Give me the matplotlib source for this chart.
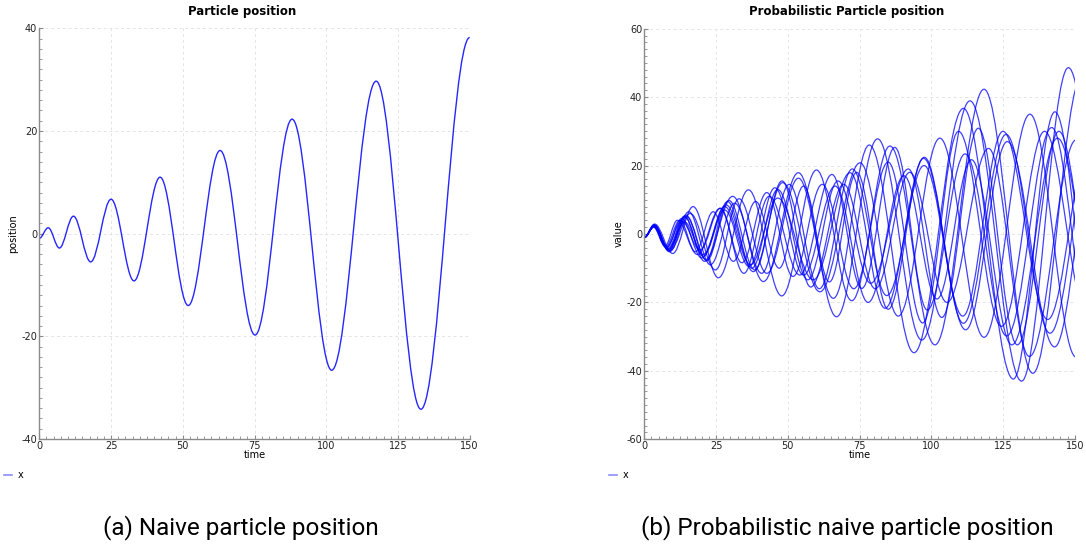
import matplotlib
matplotlib.use('Agg')
import matplotlib.pyplot as plt
from matplotlib.path import Path
from matplotlib.patches import PathPatch
from matplotlib.lines import Line2D
from matplotlib.ticker import MultipleLocator

plt.rcParams['axes.unicode_minus'] = False

# 单粒子轨迹的极值点 (time, position)
naive_t = [0, 3.1, 7.0, 11.9, 17.9, 25.0, 33.0, 42.1, 51.9, 63.0, 75.2, 88.1, 101.9, 117.4, 133.0, 150.0]
naive_x = [-0.9, 1.15, -2.8, 3.4, -5.5, 6.7, -9.2, 11.0, -14.0, 16.2, -19.75, 22.3, -26.6, 29.7, -34.2, 38.2]

# 概率粒子的各条采样轨迹（极值点）
run_a_t = [0, 3.5, 8.5, 14.0, 21.0, 30.8, 41.5, 53.7, 67.0, 81.3, 96.7, 113.5, 131.5, 147.8, 166.0]
run_a_x = [-1.0, 2.6, -4.5, 5.0, -8.0, 11.0, -13.9, 17.9, -24.2, 27.8, -31.0, 38.9, -43.0, 48.6, -52.0]
run_b_t = [0, 3.6, 9.9, 17.0, 25.8, 36.3, 47.9, 60.0, 72.3, 85.6, 101.3, 118.4, 135.4, 152.5]
run_b_x = [-1.0, 2.9, -5.7, 8.0, -12.8, 12.9, -18.1, 18.7, -19.5, 25.7, -32.4, 42.3, -40.7, 46.0]
run_c_t = [0, 3.4, 9.0, 16.0, 24.8, 33.0, 42.7, 53.7, 65.9, 78.4, 94.0, 111.2, 128.6, 143.1, 158.0]
run_c_x = [-1.0, 2.4, -4.8, 6.0, -10.5, 10.3, -11.5, 16.3, -18.8, 26.0, -34.7, 36.7, -42.4, 35.7, -38.0]
run_d_t = [0, 3.2, 7.2, 11.5, 18.5, 26.4, 34.7, 43.5, 54.2, 65.4, 75.8, 87.3, 98.6, 111.8, 126.3, 142.0, 156.0]
run_d_x = [-1.0, 2.0, -3.5, 4.0, -6.0, 7.5, -11.5, 11.0, -12.0, 17.4, -15.9, 25.3, -22.2, 23.4, -29.8, 31.1, -30.0]
run_e_t = [0, 3.4, 7.8, 13.0, 20.0, 28.5, 38.0, 48.2, 61.2, 75.2, 88.5, 103.0, 118.4, 134.4, 150.5]
run_e_x = [-1.0, 2.3, -4.0, 4.5, -7.0, 8.5, -11.0, 15.0, -16.9, 20.8, -24.0, 28.0, -30.2, 35.0, -36.0]
run_f_t = [0, 3.4, 8.2, 14.0, 20.5, 28.0, 37.0, 46.5, 58.9, 71.7, 83.9, 97.6, 111.2, 126.1, 141.4, 157.0]
run_f_x = [-1.0, 2.0, -4.5, 3.5, -6.0, 8.0, -9.0, 10.5, -13.4, 17.9, -21.7, 22.4, -26.1, 29.1, -29.0, 30.0]
run_g_t = [0, 3.5, 8.5, 14.5, 21.5, 29.0, 37.5, 46.5, 57.0, 67.5, 78.9, 92.0, 103.7, 116.4, 130.0, 144.5, 159.0]
run_g_x = [-1.0, 2.4, -5.0, 5.5, -7.5, 9.5, -10.0, 13.0, -13.4, 15.5, -14.4, 19.0, -24.4, 30.9, -32.4, 30.0, -30.0]
run_h_t = [0, 3.3, 7.4, 12.4, 17.8, 24.0, 31.0, 38.8, 47.0, 55.5, 64.5, 74.0, 85.0, 97.3, 112.0, 126.5, 143.0, 158.0]
run_h_x = [-1.0, 2.2, -3.8, 4.0, -5.2, 6.5, -8.0, 9.5, -10.0, 14.0, -14.0, 18.0, -22.0, 22.1, -28.0, 27.0, -33.0, 30.0]
run_i_t = [0, 3.5, 8.2, 14.0, 20.5, 28.0, 36.5, 45.5, 55.5, 66.5, 78.0, 90.5, 102.0, 114.0, 128.1, 144.0, 160.0]
run_i_x = [-1.0, 2.5, -4.2, 5.2, -6.5, 7.0, -9.5, 13.5, -12.0, 14.0, -20.0, 17.0, -19.0, 21.7, -32.4, 28.0, -30.0]
run_j_t = [0, 3.4, 8.8, 15.5, 23.0, 31.5, 40.9, 50.5, 61.0, 72.5, 84.5, 97.5, 111.0, 125.0, 140.6, 156.0]
run_j_x = [-1.0, 2.7, -5.2, 6.5, -9.0, 9.0, -11.5, 14.5, -16.0, 19.0, -18.0, 20.0, -24.0, 30.0, -25.0, 30.0]
run_k_t = [0, 3.6, 8.5, 14.8, 21.8, 29.5, 38.5, 48.0, 58.0, 69.5, 80.5, 92.5, 105.5, 120.0, 134.2, 150.5]
run_k_x = [-1.0, 2.5, -4.8, 5.0, -7.8, 9.8, -10.5, 15.5, -15.5, 14.5, -16.0, 18.0, -20.0, 25.0, -35.8, 27.5]
run_l_t = [0, 3.3, 7.7, 13.0, 19.4, 26.5, 34.0, 42.7, 51.8, 62.0, 73.0, 85.0, 97.0, 109.5, 124.5, 139.5, 154.5]
run_l_x = [-1.0, 2.1, -3.9, 3.8, -4.7, 7.5, -8.4, 12.1, -12.4, 14.5, -16.0, 21.0, -26.0, 30.0, -27.0, 30.0, -24.0]

runs = [(run_a_t, run_a_x), (run_b_t, run_b_x), (run_c_t, run_c_x), (run_d_t, run_d_x),
        (run_e_t, run_e_x), (run_f_t, run_f_x), (run_g_t, run_g_x), (run_h_t, run_h_x),
        (run_i_t, run_i_x), (run_j_t, run_j_x), (run_k_t, run_k_x), (run_l_t, run_l_x)]

LINE_COLOR = '#0000ff'
GRID_COLOR = '#e4e4e4'
SPINE_COLOR = '#8a8a8a'


# 用三次贝塞尔曲线连接相邻极值点，极值处切线水平
def smooth_path(ts, xs):
    verts = [(ts[0], xs[0])]
    codes = [Path.MOVETO]
    for i in range(1, len(ts)):
        d = ts[i] - ts[i - 1]
        verts += [(ts[i - 1] + 0.364 * d, xs[i - 1]), (ts[i] - 0.364 * d, xs[i]), (ts[i], xs[i])]
        codes += [Path.CURVE4] * 3
    return Path(verts, codes)


def draw_curve(ax, ts, xs, alpha, lw):
    patch = PathPatch(smooth_path(ts, xs), facecolor='none', edgecolor=LINE_COLOR, lw=lw, alpha=alpha)
    ax.add_patch(patch)


# 坐标轴外观：只留左、下轴，刻度朝内，虚线网格
def style_axes(ax, title, ylabel, ylim, ystep):
    ax.set_xlim(0, 150)
    ax.set_ylim(*ylim)
    ax.xaxis.set_major_locator(MultipleLocator(25))
    ax.xaxis.set_minor_locator(MultipleLocator(2.5))
    ax.yaxis.set_major_locator(MultipleLocator(ystep))
    ax.yaxis.set_minor_locator(MultipleLocator(ystep / 10))
    for s in ['top', 'right']:
        ax.spines[s].set_visible(False)
    for s in ['left', 'bottom']:
        ax.spines[s].set_color(SPINE_COLOR)
        ax.spines[s].set_linewidth(1.0)
    ax.tick_params(which='both', direction='in', colors=SPINE_COLOR, labelcolor='#222222', labelsize=7)
    ax.tick_params(which='major', length=3, pad=1.5)
    ax.tick_params(which='minor', length=2)
    ax.grid(True, which='major', color=GRID_COLOR, lw=0.7, ls=(0, (3, 3)))
    ax.set_axisbelow(True)
    ax.text(0.471, 1.025, title, transform=ax.transAxes, ha='center', va='bottom',
            fontsize=8.5, fontweight='bold')
    ax.set_xlabel('time', fontsize=7, labelpad=-1)
    ax.set_ylabel(ylabel, fontsize=7, labelpad=2)


fig = plt.figure(figsize=(10.86, 5.44), dpi=100)
ax1 = fig.add_axes([0.0362, 0.1930, 0.3963, 0.7550])
ax2 = fig.add_axes([0.5933, 0.1925, 0.3963, 0.7548])

draw_curve(ax1, naive_t, naive_x, 0.85, 1.0)
style_axes(ax1, 'Particle position', 'position', (-40, 40), 20)

for ts, xs in runs:
    draw_curve(ax2, ts, xs, 0.75, 0.9)
style_axes(ax2, 'Probabilistic Particle position', 'value', (-60, 60), 20)

# 图例放在左下角
for x0 in [0.0, 0.5576]:
    proxy = Line2D([], [], color=LINE_COLOR, lw=1.2, alpha=0.45)
    fig.legend(handles=[proxy], labels=['x'], loc='center left', bbox_to_anchor=(x0, 0.127),
               frameon=False, fontsize=7, handlelength=0.8, handletextpad=0.6, borderaxespad=0)

cap_font = ['Roboto', 'DejaVu Sans']
fig.text(241 / 1086, 1 - 528 / 544, '(a) Naive particle position', ha='center', va='center',
         fontsize=17.5, family=cap_font, color='black')
fig.text(847 / 1086, 1 - 528 / 544, '(b) Probabilistic naive particle position', ha='center', va='center',
         fontsize=17.5, family=cap_font, color='black')

fig.savefig('out.png', dpi=100)
